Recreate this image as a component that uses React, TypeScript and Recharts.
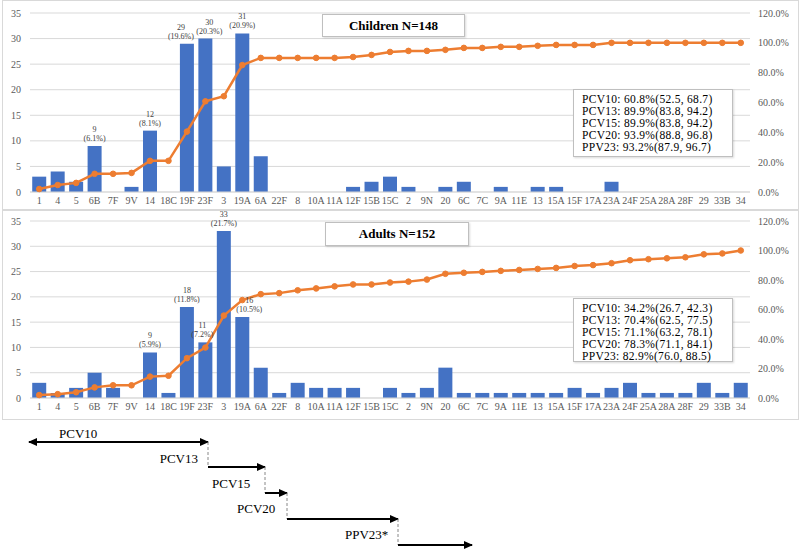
import React from "react";
import {
  ComposedChart,
  Bar,
  Line,
  XAxis,
  YAxis,
  CartesianGrid,
  LabelList,
} from "recharts";

const serotypes = [
  "1", "4", "5", "6B", "7F", "9V", "14", "18C", "19F", "23F",
  "3", "19A", "6A", "22F", "8", "10A", "11A", "12F", "15B", "15C",
  "2", "9N", "20", "6C", "7C", "9A", "11E", "13", "15A", "15F",
  "17A", "23A", "24F", "25A", "28A", "28F", "29", "33B", "34",
];

const childCounts = [
  3, 4, 2, 9, 0, 1, 12, 0, 29, 30,
  5, 31, 7, 0, 0, 0, 0, 1, 2, 3,
  1, 0, 1, 2, 0, 1, 0, 1, 1, 0,
  0, 2, 0, 0, 0, 0, 0, 0, 0,
];
const childCumPct = [
  2.0, 4.7, 6.1, 12.2, 12.2, 12.8, 20.9, 20.9, 40.5, 60.8,
  64.2, 85.1, 89.9, 89.9, 89.9, 89.9, 89.9, 90.5, 91.9, 93.9,
  94.6, 94.6, 95.3, 96.6, 96.6, 97.3, 97.3, 98.0, 98.6, 98.6,
  98.6, 100, 100, 100, 100, 100, 100, 100, 100,
];

const adultCounts = [
  3, 1, 2, 5, 2, 0, 9, 1, 18, 11,
  33, 16, 6, 1, 3, 2, 2, 2, 0, 2,
  1, 2, 6, 1, 1, 1, 1, 1, 1, 2,
  1, 2, 3, 1, 1, 1, 3, 1, 3,
];
const adultCumPct = [
  2.0, 2.6, 3.9, 7.2, 8.6, 8.6, 14.5, 15.1, 27.0, 34.2,
  55.9, 66.4, 70.4, 71.1, 73.0, 74.3, 75.7, 77.0, 77.0, 78.3,
  78.9, 80.3, 84.2, 84.9, 85.5, 86.2, 86.8, 87.5, 88.2, 89.5,
  90.1, 91.4, 93.4, 94.1, 94.7, 95.4, 97.4, 98.0, 100,
];

const childLabeled = ["6B", "14", "19F", "23F", "19A"];
const adultLabeled = ["14", "19F", "23F", "3", "19A"];

const childStats = [
  "PCV10: 60.8%(52.5, 68.7)",
  "PCV13: 89.9%(83.8, 94.2)",
  "PCV15: 89.9%(83.8, 94.2)",
  "PCV20: 93.9%(88.8, 96.8)",
  "PPV23: 93.2%(87.9, 96.7)",
];
const adultStats = [
  "PCV10: 34.2%(26.7, 42.3)",
  "PCV13: 70.4%(62.5, 77.5)",
  "PCV15: 71.1%(63.2, 78.1)",
  "PCV20: 78.3%(71.1, 84.1)",
  "PPV23: 82.9%(76.0, 88.5)",
];

const vaccineSteps = ["PCV10", "PCV13", "PCV15", "PCV20", "PPV23*"];

const countTicks = [0, 5, 10, 15, 20, 25, 30, 35];
const pctTicks = [0, 20, 40, 60, 80, 100, 120];

const FONT = "'Liberation Serif', 'Times New Roman', serif";
const BLUE = "#4472C4";
const ORANGE = "#ED7D31";
const GRID = "#d9d9d9";
const TICK = "#595959";

type Box = { left: number; top: number; width: number; height: number };

type PanelProps = {
  top: number;
  plotTop: number;
  axisHeight: number;
  counts: number[];
  cum: number[];
  n: number;
  labeled: string[];
  tagShift: Record<string, number>;
  title: string;
  titleBox: Box;
  stats: string[];
  statsBox: Box;
};

// two-line "count / (pct)" label above the highlighted bars
const BarTag = (props: any) => {
  const { x, y, width, value } = props;
  if (!value) return null;
  const [count, pct, shift] = String(value).split("|");
  const cx = x + width / 2 + Number(shift || 0);
  return (
    <g>
      <text x={cx} y={y - 14} textAnchor="middle" fontSize={8} fill="#404040" fontFamily={FONT}>
        {count}
      </text>
      <text x={cx} y={y - 5} textAnchor="middle" fontSize={8} fill="#404040" fontFamily={FONT}>
        ({pct}%)
      </text>
    </g>
  );
};

const Panel = (p: PanelProps) => {
  const data = serotypes.map((s, i) => ({
    name: s,
    count: p.counts[i],
    cum: p.cum[i],
    tag: p.labeled.includes(s)
      ? `${p.counts[i]}|${((p.counts[i] / p.n) * 100).toFixed(1)}|${p.tagShift[s] || 0}`
      : "",
  }));

  return (
    <div style={{ position: "absolute", left: 0, top: p.top, width: 800, height: 210 }}>
      <div
        style={{
          position: "absolute",
          left: 2,
          top: 0,
          width: 795,
          height: 208,
          border: "1px solid #d9d9d9",
        }}
      />
      <ComposedChart
        width={800}
        height={210}
        data={data}
        margin={{ top: p.plotTop, right: 0, bottom: 0, left: 0 }}
        barCategoryGap="12%"
        style={{ position: "absolute", left: 0, top: 0 }}
      >
        <CartesianGrid yAxisId="left" vertical={false} stroke={GRID} />
        <XAxis
          dataKey="name"
          interval={0}
          height={p.axisHeight}
          tickSize={0}
          tickMargin={5}
          axisLine={{ stroke: GRID }}
          tick={{ fontSize: 10, fill: TICK, fontFamily: FONT }}
        />
        <YAxis
          yAxisId="left"
          width={30}
          domain={[0, 35]}
          ticks={countTicks}
          axisLine={false}
          tickLine={false}
          tickSize={0}
          tickMargin={9}
          tick={{ fontSize: 10, fill: TICK, fontFamily: FONT }}
        />
        <YAxis
          yAxisId="right"
          orientation="right"
          width={50}
          domain={[0, 120]}
          ticks={pctTicks}
          axisLine={false}
          tickLine={false}
          tickSize={0}
          tickMargin={8}
          tickFormatter={(v: number) => `${v.toFixed(1)}%`}
          tick={{ fontSize: 10, fill: TICK, fontFamily: FONT, textAnchor: "start" }}
        />
        <Bar yAxisId="left" dataKey="count" fill={BLUE} isAnimationActive={false}>
          <LabelList dataKey="tag" content={BarTag} />
        </Bar>
        <Line
          yAxisId="right"
          dataKey="cum"
          stroke={ORANGE}
          strokeWidth={2.5}
          dot={{ r: 2.8, fill: ORANGE, stroke: ORANGE, strokeWidth: 1 }}
          isAnimationActive={false}
        />
      </ComposedChart>
      <div
        style={{
          position: "absolute",
          left: p.titleBox.left,
          top: p.titleBox.top,
          width: p.titleBox.width,
          height: p.titleBox.height,
          border: "1px solid #bfbfbf",
          boxShadow: "1px 1px 2px rgba(0,0,0,0.15)",
          background: "#fff",
          fontFamily: FONT,
          fontWeight: "bold",
          fontSize: 13,
          display: "flex",
          alignItems: "center",
          justifyContent: "center",
          boxSizing: "border-box",
        }}
      >
        {p.title}
      </div>
      <div
        style={{
          position: "absolute",
          left: p.statsBox.left,
          top: p.statsBox.top,
          width: p.statsBox.width,
          height: p.statsBox.height,
          border: "1px solid #bfbfbf",
          boxShadow: "1px 1px 2px rgba(0,0,0,0.15)",
          background: "#fff",
          fontFamily: FONT,
          fontSize: 11.5,
          lineHeight: "12px",
          letterSpacing: 0.3,
          padding: "3px 0 0 8px",
          boxSizing: "border-box",
          color: "#000",
          whiteSpace: "nowrap",
        }}
      >
        {p.stats.map((s) => (
          <div key={s}>{s}</div>
        ))}
      </div>
    </div>
  );
};

const VaccineArrows = () => {
  const segs = [
    { x1: 29, x2: 208, y: 22, double: true, tx: 59, ty: 14, anchor: "start" },
    { x1: 208, x2: 265, y: 47, double: false, tx: 198, ty: 39, anchor: "end" },
    { x1: 265, x2: 287, y: 73, double: false, tx: 212, ty: 64, anchor: "start" },
    { x1: 287, x2: 398, y: 99, double: false, tx: 237, ty: 89, anchor: "start" },
    { x1: 398, x2: 472, y: 125, double: false, tx: 345, ty: 115, anchor: "start" },
  ];
  return (
    <svg width={800} height={130} style={{ position: "absolute", left: 0, top: 420 }}>
      <defs>
        <marker id="ah" markerWidth="9" markerHeight="8" refX="8" refY="4" orient="auto-start-reverse" markerUnits="userSpaceOnUse">
          <path d="M0,0 L9,4 L0,8 z" fill="#000" />
        </marker>
      </defs>
      {segs.map((s, i) => (
        <g key={i}>
          {i > 0 && (
            <line
              x1={s.x1}
              x2={s.x1}
              y1={segs[i - 1].y}
              y2={s.y}
              stroke="#888"
              strokeWidth={1}
              strokeDasharray="3 2"
            />
          )}
          <line
            x1={s.x1}
            x2={s.x2}
            y1={s.y}
            y2={s.y}
            stroke="#000"
            strokeWidth={2}
            markerEnd="url(#ah)"
            markerStart={s.double ? "url(#ah)" : undefined}
          />
          <text
            x={s.tx}
            y={s.ty + 4}
            textAnchor={s.anchor as any}
            fontSize={13}
            fontFamily={FONT}
            fill="#000"
          >
            {vaccineSteps[i]}
          </text>
        </g>
      ))}
    </svg>
  );
};

export default function App() {
  return (
    <div style={{ position: "absolute", left: 0, top: 0, width: 800, height: 550, background: "#fff" }}>
      <Panel
        top={0}
        plotTop={13}
        axisHeight={18}
        counts={childCounts}
        cum={childCumPct}
        n={148}
        labeled={childLabeled}
        tagShift={{ "19F": -6, "23F": 4 }}
        title="Children N=148"
        titleBox={{ left: 322, top: 14, width: 143, height: 23 }}
        stats={childStats}
        statsBox={{ left: 573, top: 89, width: 160, height: 68 }}
      />
      <Panel
        top={210}
        plotTop={11}
        axisHeight={22}
        counts={adultCounts}
        cum={adultCumPct}
        n={152}
        labeled={adultLabeled}
        tagShift={{ "23F": -3, "19A": 7 }}
        title="Adults N=152"
        titleBox={{ left: 325, top: 12, width: 144, height: 24 }}
        stats={adultStats}
        statsBox={{ left: 573, top: 88, width: 160, height: 64 }}
      />
      <VaccineArrows />
    </div>
  );
}
